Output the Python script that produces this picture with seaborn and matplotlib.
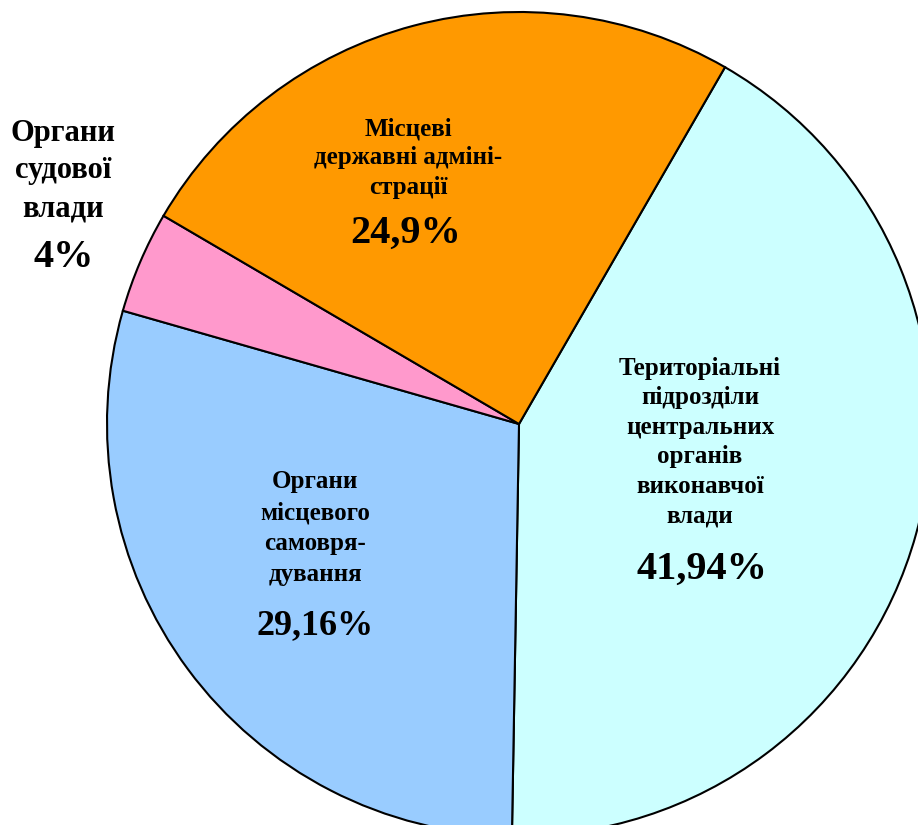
import matplotlib
matplotlib.use("Agg")
from matplotlib import pyplot as plt
import seaborn as sns

# data
names = ["Територіальні\nпідрозділи\nцентральних\nорганів\nвиконавчої\nвлади",
         "Органи\nмісцевого\nсамовря-\nдування",
         "Органи\nсудової\nвлади",
         "Місцеві\nдержавні адміні-\nстрації"]
shares = [41.94, 29.16, 4, 24.9]
pct_labels = ["41,94%", "29,16%", "4%", "24,9%"]
colors = ["#CCFFFF", "#99CCFF", "#FF99CC", "#FF9900"]

sns.set_style("white")
plt.rcParams['font.family'] = ['Liberation Serif', 'DejaVu Serif']
plt.rcParams['font.weight'] = 'bold'

fig = plt.figure(figsize=(9.18, 8.25), dpi=100)
ax = fig.add_axes([0, 0, 1, 1])

cx, cy, r = 519, 424, 412

ax.pie(shares, colors=colors, startangle=60, counterclock=False,
       wedgeprops=dict(edgecolor="black", linewidth=1.5), radius=1)

def to_data(px, py):
    return (px - cx) / r, (cy - py) / r

ax.set_xlim(-cx / r, (918 - cx) / r)
ax.set_ylim(-(825 - cy) / r, cy / r)
ax.set_aspect("equal")
ax.axis("off")

# label positions in pixels (centre of text block, font size, line height)
label_pos = [(700, 442, 18, 34), (315, 528, 18, 36), (63, 171, 22, 43), (408, 158, 18, 34)]
pct_pos = [(702, 569, 29), (315, 626, 26), (64, 258, 29), (406, 233, 29)]

for i in range(len(names)):
    px, py, fs, lh = label_pos[i]
    x, y = to_data(px, py)
    ax.text(x, y, names[i], ha="center", va="center", fontsize=fs, color="black",
            fontweight="bold", linespacing=lh / (fs * 100 / 72), multialignment="center")
    px, py, fs = pct_pos[i]
    x, y = to_data(px, py)
    ax.text(x, y, pct_labels[i], ha="center", va="center", fontsize=fs,
            color="black", fontweight="bold")

fig.savefig("out.png", dpi=100, facecolor="white")
